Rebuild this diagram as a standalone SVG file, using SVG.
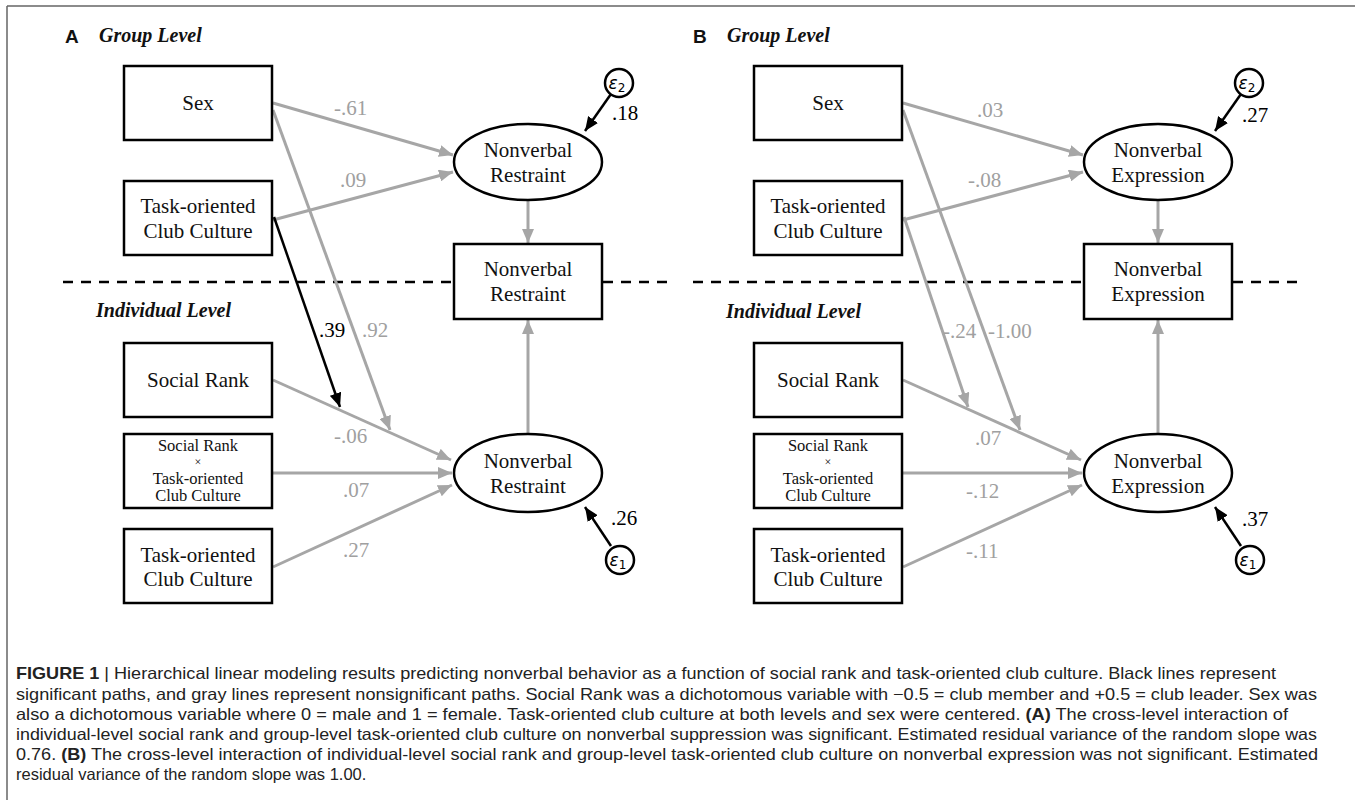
<svg xmlns="http://www.w3.org/2000/svg" width="1355" height="800" viewBox="0 0 1355 800">
<style>
.frame{stroke:#666;stroke-width:1.5;fill:none}
.box{fill:#fff;stroke:#000;stroke-width:2.5}
.t{font-family:"Liberation Serif",serif;font-size:21px;text-anchor:middle;fill:#111}
.ts{font-family:"Liberation Serif",serif;font-size:16.5px;text-anchor:middle;fill:#111}
.tx{font-family:"Liberation Serif",serif;font-size:12px;text-anchor:middle;fill:#111}
.hd{font-family:"Liberation Serif",serif;font-size:20px;font-weight:bold;font-style:italic;fill:#111}
.pl{font-family:"Liberation Sans",sans-serif;font-size:19px;font-weight:bold;fill:#111}
.gl{stroke:#a6a6a6;stroke-width:3;fill:none;marker-end:url(#ag)}
.bl{stroke:#000;stroke-width:2.5;fill:none;marker-end:url(#ab)}
.lab{font-family:"Liberation Serif",serif;font-size:21px;fill:#a0a0a0}
.labk{font-family:"Liberation Serif",serif;font-size:21px;fill:#000}
.eps{font-family:"DejaVu Sans",sans-serif;font-size:17px;font-style:italic;text-anchor:middle;fill:#000}
.dash{stroke:#000;stroke-width:2.5;stroke-dasharray:10,8}
.cap{font-family:"Liberation Sans",sans-serif;font-size:16.5px;fill:#222}
</style>
<defs>
<marker id="ag" markerUnits="userSpaceOnUse" markerWidth="16" markerHeight="12" refX="14" refY="6" orient="auto"><path d="M0,0 L14,6 L0,12 z" fill="#a6a6a6"/></marker>
<marker id="ab" markerUnits="userSpaceOnUse" markerWidth="16" markerHeight="12" refX="14" refY="6" orient="auto"><path d="M0,0 L14,6 L0,12 z" fill="#000"/></marker>
</defs>
<rect width="1355" height="800" fill="#fff"/>
<path class="frame" d="M7,6 H1355 M7,6 V800"/>

<!-- Panel A -->
<g id="panelA">
<text class="pl" x="65" y="43">A</text>
<text class="hd" x="99" y="42">Group Level</text>
<text class="hd" x="96" y="317">Individual Level</text>
<line class="dash" x1="63" y1="282" x2="670" y2="282"/>
<g id="connectorsA">
<path class="gl" d="M273,103 L453,155"/>
<path class="gl" d="M273,220 L453,172"/>
<path class="gl" d="M273,110 L390,430"/>
<path class="bl" d="M274,217 L340,407"/>
<path class="gl" d="M528,200 L528,243"/>
<path class="gl" d="M528,434 L528,320"/>
<path class="gl" d="M273,380 L451,460"/>
<path class="gl" d="M273,473 L452,473"/>
<path class="gl" d="M273,567 L452,485"/>
<path class="bl" d="M611,94 L585,131"/>
<path class="bl" d="M611,546 L585,507"/>
<text class="lab" x="334" y="115">-.61</text>
<text class="lab" x="340" y="187">.09</text>
<text class="labk" x="319" y="337">.39</text>
<text class="lab" x="362" y="337">.92</text>
<text class="lab" x="334" y="443">-.06</text>
<text class="lab" x="343" y="497">.07</text>
<text class="lab" x="343" y="557">.27</text>
<text class="labk" x="612" y="120">.18</text>
<text class="labk" x="611" y="525">.26</text>
</g>
<g id="a-sex"><rect class="box" x="124" y="66" width="148" height="74"/><text class="t" x="198" y="110">Sex</text></g>
<g id="a-task-group"><rect class="box" x="124" y="181" width="148" height="74"/><text class="t" x="198" y="213">Task-oriented</text><text class="t" x="198" y="238">Club Culture</text></g>
<g id="a-restraint-latent"><ellipse class="box" cx="528" cy="162" rx="74" ry="38"/><text class="t" x="528" y="157">Nonverbal</text><text class="t" x="528" y="182">Restraint</text></g>
<g id="a-eps2"><circle class="box" cx="619" cy="83" r="14" stroke-width="1.5"/><text class="eps" x="617" y="89">ε<tspan font-size="12" dy="3" font-style="normal">2</tspan></text></g>
<g id="a-restraint-box"><rect class="box" x="454" y="244" width="148" height="75"/><text class="t" x="528" y="276">Nonverbal</text><text class="t" x="528" y="301">Restraint</text></g>
<g id="a-social-rank"><rect class="box" x="124" y="343" width="148" height="74"/><text class="t" x="198" y="387">Social Rank</text></g>
<g id="a-interaction"><rect class="box" x="124" y="434" width="148" height="74"/><text class="ts" x="198" y="451">Social Rank</text><text class="tx" x="198" y="466">×</text><text class="ts" x="198" y="484">Task-oriented</text><text class="ts" x="198" y="501">Club Culture</text></g>
<g id="a-task-ind"><rect class="box" x="124" y="529" width="148" height="74"/><text class="t" x="198" y="562">Task-oriented</text><text class="t" x="198" y="586">Club Culture</text></g>
<g id="a-restraint-ind"><ellipse class="box" cx="528" cy="473" rx="74" ry="39"/><text class="t" x="528" y="468">Nonverbal</text><text class="t" x="528" y="493">Restraint</text></g>
<g id="a-eps1"><circle class="box" cx="620" cy="560" r="14" stroke-width="1.5"/><text class="eps" x="618" y="566">ε<tspan font-size="12" dy="3" font-style="normal">1</tspan></text></g>
</g>

<!-- Panel B -->
<g id="panelB" transform="translate(630,0)">
<text class="pl" x="63" y="43">B</text>
<text class="hd" x="97" y="42">Group Level</text>
<text class="hd" x="96" y="318">Individual Level</text>
<line class="dash" x1="63" y1="282" x2="670" y2="282"/>
<g id="connectorsB">
<path class="gl" d="M273,103 L453,155"/>
<path class="gl" d="M273,220 L453,172"/>
<path class="gl" d="M273,110 L390,430"/>
<path class="gl" d="M274,217 L338,407"/>
<path class="gl" d="M528,200 L528,243"/>
<path class="gl" d="M528,434 L528,320"/>
<path class="gl" d="M273,380 L451,460"/>
<path class="gl" d="M273,473 L452,473"/>
<path class="gl" d="M273,567 L452,485"/>
<path class="bl" d="M611,94 L585,131"/>
<path class="bl" d="M611,546 L585,507"/>
<text class="lab" x="347" y="117">.03</text>
<text class="lab" x="338" y="187">-.08</text>
<text class="lab" x="313" y="338">-.24</text>
<text class="lab" x="358" y="338">-1.00</text>
<text class="lab" x="345" y="445">.07</text>
<text class="lab" x="336" y="498">-.12</text>
<text class="lab" x="336" y="558">-.11</text>
<text class="labk" x="612" y="122">.27</text>
<text class="labk" x="612" y="526">.37</text>
</g>
<g id="b-sex"><rect class="box" x="124" y="66" width="148" height="74"/><text class="t" x="198" y="110">Sex</text></g>
<g id="b-task-group"><rect class="box" x="124" y="181" width="148" height="74"/><text class="t" x="198" y="213">Task-oriented</text><text class="t" x="198" y="238">Club Culture</text></g>
<g id="b-expression-latent"><ellipse class="box" cx="528" cy="162" rx="74" ry="38"/><text class="t" x="528" y="157">Nonverbal</text><text class="t" x="528" y="182">Expression</text></g>
<g id="b-eps2"><circle class="box" cx="619" cy="83" r="14" stroke-width="1.5"/><text class="eps" x="617" y="89">ε<tspan font-size="12" dy="3" font-style="normal">2</tspan></text></g>
<g id="b-expression-box"><rect class="box" x="454" y="244" width="148" height="75"/><text class="t" x="528" y="276">Nonverbal</text><text class="t" x="528" y="301">Expression</text></g>
<g id="b-social-rank"><rect class="box" x="124" y="343" width="148" height="74"/><text class="t" x="198" y="387">Social Rank</text></g>
<g id="b-interaction"><rect class="box" x="124" y="434" width="148" height="74"/><text class="ts" x="198" y="451">Social Rank</text><text class="tx" x="198" y="466">×</text><text class="ts" x="198" y="484">Task-oriented</text><text class="ts" x="198" y="501">Club Culture</text></g>
<g id="b-task-ind"><rect class="box" x="124" y="529" width="148" height="74"/><text class="t" x="198" y="562">Task-oriented</text><text class="t" x="198" y="586">Club Culture</text></g>
<g id="b-expression-ind"><ellipse class="box" cx="528" cy="473" rx="74" ry="39"/><text class="t" x="528" y="468">Nonverbal</text><text class="t" x="528" y="493">Expression</text></g>
<g id="b-eps1"><circle class="box" cx="620" cy="560" r="14" stroke-width="1.5"/><text class="eps" x="618" y="566">ε<tspan font-size="12" dy="3" font-style="normal">1</tspan></text></g>
</g>

<!-- Caption -->
<g id="caption">
<text class="cap" x="16" y="679" textLength="1260" lengthAdjust="spacingAndGlyphs"><tspan font-weight="bold">FIGURE 1</tspan> | Hierarchical linear modeling results predicting nonverbal behavior as a function of social rank and task-oriented club culture. Black lines represent</text>
<text class="cap" x="16" y="700" textLength="1301" lengthAdjust="spacingAndGlyphs">significant paths, and gray lines represent nonsignificant paths. Social Rank was a dichotomous variable with −0.5 = club member and +0.5 = club leader. Sex was</text>
<text class="cap" x="16" y="720" textLength="1272" lengthAdjust="spacingAndGlyphs">also a dichotomous variable where 0 = male and 1 = female. Task-oriented club culture at both levels and sex were centered. <tspan font-weight="bold">(A)</tspan> The cross-level interaction of</text>
<text class="cap" x="16" y="740" textLength="1301" lengthAdjust="spacingAndGlyphs">individual-level social rank and group-level task-oriented club culture on nonverbal suppression was significant. Estimated residual variance of the random slope was</text>
<text class="cap" x="16" y="760" textLength="1302" lengthAdjust="spacingAndGlyphs">0.76. <tspan font-weight="bold">(B)</tspan> The cross-level interaction of individual-level social rank and group-level task-oriented club culture on nonverbal expression was not significant. Estimated</text>
<text class="cap" x="16" y="780">residual variance of the random slope was 1.00.</text>
</g>
</svg>
